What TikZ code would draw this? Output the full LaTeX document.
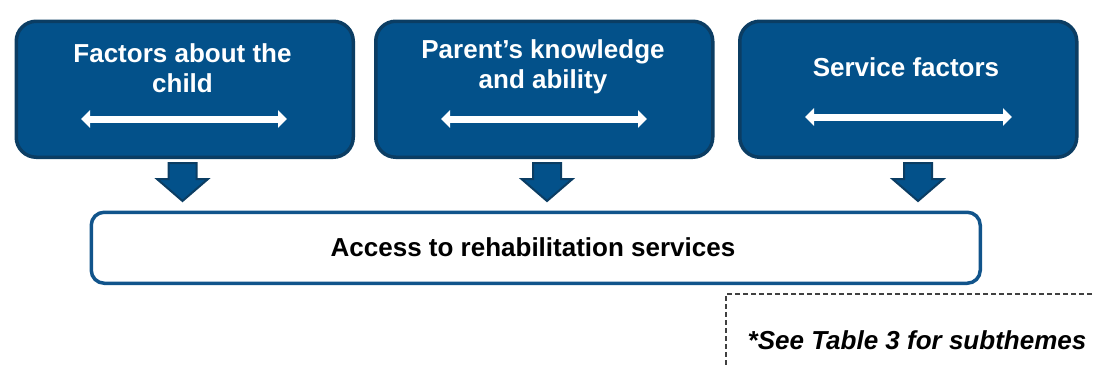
\documentclass[tikz,border=0pt]{standalone}
\usepackage{fontspec}
\setmainfont{Liberation Sans}
\usetikzlibrary{arrows.meta,calc}
\definecolor{boxfill}{HTML}{03518A}
\definecolor{boxline}{HTML}{0B3D63}
\definecolor{accline}{HTML}{11548B}
\definecolor{notegray}{HTML}{404040}
\tikzset{
  topbox/.style={draw=boxline, line width=3.5pt, fill=boxfill, rounded corners=20pt,
    minimum width=337pt, minimum height=136pt, anchor=north west},
  toptext/.style={text=white, font=\fontsize{26}{30}\selectfont\bfseries, align=center},
  dblarrow/.style={draw=white, line width=7pt, {Triangle[width=17pt,length=9pt]}-{Triangle[width=17pt,length=9pt]}},
  blockarr/.style={draw=boxline, line width=2pt, fill=boxfill, line join=miter},
  accbox/.style={draw=accline, line width=3.5pt, fill=white, rounded corners=13pt,
    minimum width=889pt, minimum height=71pt, anchor=north west},
  acctext/.style={font=\fontsize{26}{30}\selectfont\bfseries},
  notetext/.style={font=\fontsize{26}{30}\selectfont\bfseries\itshape},
  notebox/.style={draw=notegray, line width=1.1pt, dash pattern=on 5pt off 3pt}
}
\newcommand\blockdown[2]{% #1 = top centre, #2 = tip
  \draw[blockarr] let \p1=(#1), \p2=(#2) in
    (\x1-14pt,\y1) -- (\x1+14pt,\y1) -- (\x1+14pt,\y1-16pt) -- (\x1+25.5pt,\y1-16pt)
    -- (\x1,\y2) -- (\x1-25.5pt,\y1-16pt) -- (\x1-14pt,\y1-16pt) -- cycle;}
\begin{document}
\begin{tikzpicture}[x=1pt,y=-1pt]
\useasboundingbox (0,0) rectangle (1094,367);
% top boxes
\node[topbox] (b1) at (14.5,19.5) {};
\node[topbox] (b2) at (374,19.5) {};
\node[topbox] (b3) at (738,19.5) {};
\node[toptext] (t1) at (182.5,68) {Factors about the\\child};
\node[toptext] (t2) at (543,67) {Parent’s knowledge\\and ability};
\node[toptext] (t3) at (906,67) {Service factors};
% white double arrows
\coordinate (l1) at (81,119);  \coordinate (r1) at (287,119);
\coordinate (l2) at (441,119); \coordinate (r2) at (647,119);
\coordinate (l3) at (805,117); \coordinate (r3) at (1012,117);
\draw[dblarrow] (l1) -- (r1);
\draw[dblarrow] (l2) -- (r2);
\draw[dblarrow] (l3) -- (r3);
% bottom box
\node[accbox] (acc) at (89.5,210.5) {};
\node[acctext] (acct) at (533,247) {Access to rehabilitation services};
% block arrows
\coordinate (a1) at (182.5,163); \coordinate (p1) at (182.5,201);
\coordinate (a2) at (547,163);   \coordinate (p2) at (547,201);
\coordinate (a3) at (918,163);   \coordinate (p3) at (918,201);
\blockdown{a1}{p1}
\blockdown{a2}{p2}
\blockdown{a3}{p3}
% note
\coordinate (n1) at (1100,294);
\coordinate (n2) at (726,294);
\coordinate (n3) at (726,372);
\draw[notebox] (n1) -- (n2) -- (n3);
\node[notetext] (note) at (917,340) {*See Table 3 for subthemes};
\end{tikzpicture}
\end{document}
